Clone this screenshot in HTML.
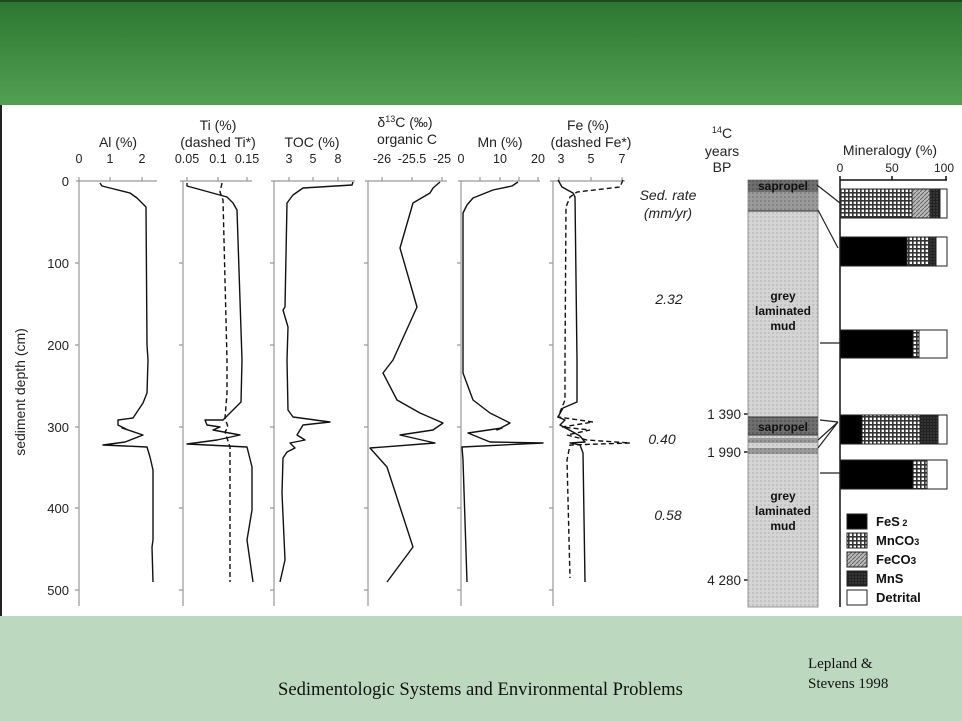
<!DOCTYPE html>
<html><head><meta charset="utf-8"><style>
html,body{margin:0;padding:0;width:962px;height:721px;overflow:hidden;background:#fff}
svg{display:block}
text{font-family:"Liberation Sans",sans-serif}
text.serif{font-family:"Liberation Serif",serif}
</style></head><body>
<svg width="962" height="721" viewBox="0 0 962 721" xmlns="http://www.w3.org/2000/svg">
<defs>
<linearGradient id="g" x1="0" y1="0" x2="0" y2="1"><stop offset="0" stop-color="#2c7632"/><stop offset="1" stop-color="#52a052"/></linearGradient>
<pattern id="dots" width="4" height="4" patternUnits="userSpaceOnUse"><rect width="4" height="4" fill="#d4d4d4"/><circle cx="1" cy="1" r="0.7" fill="#a8a8a8"/></pattern>
<pattern id="dots2" width="4" height="4" patternUnits="userSpaceOnUse"><rect width="4" height="4" fill="#9a9a9a"/><circle cx="1" cy="1" r="0.8" fill="#6a6a6a"/></pattern>
<pattern id="dots3" width="4" height="4" patternUnits="userSpaceOnUse"><rect width="4" height="4" fill="#6e6e6e"/><circle cx="1" cy="1" r="0.8" fill="#444"/></pattern>
<pattern id="cross" width="4" height="4" patternUnits="userSpaceOnUse"><rect width="4" height="4" fill="#fff"/><rect width="4" height="1.6" fill="#333"/><rect width="1.6" height="4" fill="#333"/></pattern>
<pattern id="diag" width="4" height="4" patternUnits="userSpaceOnUse"><rect width="4" height="4" fill="#bbb"/><path d="M0 4L4 0" stroke="#666" stroke-width="1"/></pattern>
<pattern id="mns" width="3" height="3" patternUnits="userSpaceOnUse"><rect width="3" height="3" fill="#222"/><circle cx="1" cy="1" r="0.6" fill="#666"/></pattern>
</defs>
<rect x="0" y="0" width="962" height="105" fill="url(#g)"/>
<rect x="0" y="0" width="962" height="2" fill="#1a4a1e"/>
<rect x="0" y="616" width="962" height="105" fill="#bcd9bf"/>
<rect x="0" y="105" width="2" height="511" fill="#222"/>

<g stroke="#999" stroke-width="1.2" fill="none">
<path d="M79 181V606M183 181V606M274 181V606M368 181V606M461 181V606M553 181V606"/>
<path d="M76 181H157M180 181H252M271 181H355M365 181H447M458 181H540M550 181H625"/>
<path d="M79 177V181M110 177V181M142 177V181M187 177V181M218 177V181M247 177V181M289 177V181M313 177V181M338 177V181M382 177V181M412 177V181M442 177V181M480 177V181M500 177V181M519 177V181M538 177V181M559 177V181M591 177V181M622 177V181"/>
<path d="M75 263H79M75 345H79M75 427H79M75 508H79M75 590H79"/>
<path d="M179 263H183M179 345H183M179 427H183M179 508H183M179 590H183"/>
<path d="M270 263H274M270 345H274M270 427H274M270 508H274M270 590H274"/>
<path d="M364 263H368M364 345H368M364 427H368M364 508H368M364 590H368"/>
<path d="M457 263H461M457 345H461M457 427H461M457 508H461M457 590H461"/>
<path d="M549 263H553M549 345H553M549 427H553M549 508H553M549 590H553"/>
</g>

<g font-size="14" fill="#222" text-anchor="middle">
<text x="118" y="147">Al (%)</text>
<text x="218" y="130">Ti (%)</text><text x="218" y="147">(dashed Ti*)</text>
<text x="312" y="147">TOC (%)</text>
<text x="405" y="127">δ<tspan font-size="9" dy="-5">13</tspan><tspan dy="5">C (‰)</tspan></text><text x="407" y="144">organic C</text>
<text x="500" y="147">Mn (%)</text>
<text x="588" y="130">Fe (%)</text><text x="591" y="147">(dashed Fe*)</text>
</g>
<g font-size="12.5" fill="#222" text-anchor="middle">
<text x="79" y="163">0</text><text x="110" y="163">1</text><text x="142" y="163">2</text>
<text x="187" y="163">0.05</text><text x="218" y="163">0.1</text><text x="247" y="163">0.15</text>
<text x="289" y="163">3</text><text x="313" y="163">5</text><text x="338" y="163">8</text>
<text x="382" y="163">-26</text><text x="412" y="163">-25.5</text><text x="442" y="163">-25</text>
<text x="461" y="163">0</text><text x="500" y="163">10</text><text x="538" y="163">20</text>
<text x="561" y="163">3</text><text x="591" y="163">5</text><text x="622" y="163">7</text>
</g>
<g font-size="13" fill="#222" text-anchor="end">
<text x="69" y="186">0</text><text x="69" y="268">100</text><text x="69" y="350">200</text><text x="69" y="432">300</text><text x="69" y="513">400</text><text x="69" y="595">500</text>
</g>
<text transform="translate(25,392) rotate(-90)" font-size="14" fill="#222" text-anchor="middle">sediment depth (cm)</text>

<g stroke="#111" stroke-width="1.4" fill="none" stroke-linejoin="round">
<polyline points="100,183 102,186 110,188 130,193 137,198 146,207 147,345 148,360 147,393 143,403 133,418 118,420 118,425 128,430 122,428 143,435 125,442 103,445 147,447 150,457 153,470 153,540 152,547 153,582"/>
<polyline points="187,183 187,186 227,197 233,203 237,210 240,300 242,360 241,402 233,410 223,420 205,420 207,425 220,427 213,430 240,435 217,440 187,444 247,447 252,467 252,510 247,540 253,582"/>
<polyline points="353,182 352,185 303,188 293,195 287,203 285,307 283,310 288,327 287,360 288,410 293,417 330,422 303,425 297,435 305,440 290,443 295,448 287,452 283,458 282,493 285,560 280,582"/>
<polyline points="440,182 433,188 430,193 413,203 400,248 417,307 393,360 383,373 397,400 420,413 443,423 433,430 400,435 435,443 370,448 387,467 413,547 387,582"/>
<polyline points="518,182 512,186 493,190 473,198 467,205 463,213 463,373 473,400 490,413 510,423 497,430 502,428 468,433 490,442 543,443 462,447 463,460 467,582"/>
<polyline points="558,180 562,187 573,193 575,197 577,360 577,402 563,408 558,417 565,420 560,425 573,432 580,436 585,442 570,443 580,445 583,453 585,582"/>
</g>
<g stroke="#111" stroke-width="1.4" fill="none" stroke-dasharray="5,3">
<polyline points="222,183 220,192 223,200 227,360 227,393 225,418 228,427 225,432 230,447 230,582"/>
<polyline points="623,180 620,187 577,192 570,197 566,207 565,360 565,400 558,417 593,422 562,427 590,430 567,435 587,440 630,443 570,445 567,460 570,578"/>
</g>

<g font-size="14" font-style="italic" fill="#222" text-anchor="middle">
<text x="668" y="200">Sed. rate</text><text x="668" y="218">(mm/yr)</text>
<text x="669" y="304">2.32</text><text x="662" y="444">0.40</text><text x="668" y="520">0.58</text>
</g>
<g font-size="14" fill="#222" text-anchor="middle">
<text x="722" y="138"><tspan font-size="9" dy="-5">14</tspan><tspan dy="5">C</tspan></text>
<text x="722" y="156">years</text><text x="722" y="172">BP</text>
</g>
<g font-size="13.5" fill="#222" text-anchor="end">
<text x="741" y="419">1 390</text><text x="741" y="457">1 990</text><text x="741" y="585">4 280</text>
</g>
<path d="M744 414H748M744 452H748M744 580H748" stroke="#222" stroke-width="1.5"/>

<rect x="748" y="180" width="70" height="427" fill="url(#dots)" stroke="#999"/>
<rect x="748" y="180" width="70" height="12" fill="url(#dots3)"/>
<rect x="748" y="192" width="70" height="19" fill="url(#dots2)"/>
<rect x="748" y="417" width="70" height="18" fill="url(#dots3)"/>
<rect x="748" y="438" width="70" height="5" fill="url(#dots2)"/>
<rect x="748" y="448" width="70" height="6" fill="url(#dots2)"/>
<path d="M748 211H818M748 417H818M748 435H818" stroke="#333" stroke-width="1"/>
<g font-size="12" font-weight="bold" fill="#111" text-anchor="middle">
<text x="783" y="190">sapropel</text>
<text x="783" y="431">sapropel</text>
<text x="783" y="300">grey</text><text x="783" y="315">laminated</text><text x="783" y="330">mud</text>
<text x="783" y="500">grey</text><text x="783" y="515">laminated</text><text x="783" y="530">mud</text>
</g>
<g stroke="#222" stroke-width="1.2" fill="none">
<path d="M817 185L840 203M818 210L838 248M820 343H840M820 420L838 422M818 440L838 422M818 448L838 422M820 473H840"/>
</g>

<text x="890" y="155" font-size="14" fill="#222" text-anchor="middle">Mineralogy (%)</text>
<g font-size="12" fill="#222" text-anchor="middle"><text x="840" y="172">0</text><text x="892" y="172">50</text><text x="944" y="172">100</text></g>
<path d="M840 180V607M840 180H947M840 176V180M892 176V180M946 176V180" stroke="#111" stroke-width="1.5" fill="none"/>
<g stroke="#222" stroke-width="1">
<rect x="840" y="189" width="107" height="29" fill="#fff"/>
<rect x="840" y="189" width="72" height="29" fill="url(#cross)"/>
<rect x="912" y="189" width="18" height="29" fill="url(#diag)"/>
<rect x="930" y="189" width="10" height="29" fill="url(#mns)"/>
<rect x="840" y="237" width="107" height="29" fill="#fff"/>
<rect x="840" y="237" width="67" height="29" fill="#000"/>
<rect x="907" y="237" width="23" height="29" fill="url(#cross)"/>
<rect x="930" y="237" width="6" height="29" fill="url(#mns)"/>
<rect x="840" y="330" width="107" height="28" fill="#fff"/>
<rect x="840" y="330" width="73" height="28" fill="#000"/>
<rect x="913" y="330" width="6" height="28" fill="url(#cross)"/>
<rect x="840" y="415" width="107" height="29" fill="#fff"/>
<rect x="840" y="415" width="22" height="29" fill="#000"/>
<rect x="862" y="415" width="58" height="29" fill="url(#cross)"/>
<rect x="920" y="415" width="18" height="29" fill="url(#mns)"/>
<rect x="840" y="460" width="107" height="29" fill="#fff"/>
<rect x="840" y="460" width="73" height="29" fill="#000"/>
<rect x="913" y="460" width="14" height="29" fill="url(#cross)"/>
<rect x="847" y="514" width="20" height="15" fill="#000"/>
<rect x="847" y="533" width="20" height="15" fill="url(#cross)"/>
<rect x="847" y="552" width="20" height="15" fill="url(#diag)"/>
<rect x="847" y="571" width="20" height="15" fill="url(#mns)"/>
<rect x="847" y="590" width="20" height="15" fill="#fff"/>
</g>
<g font-size="13" font-weight="bold" fill="#111">
<text x="876" y="526">FeS<tspan font-size="9"> 2</tspan></text>
<text x="876" y="545">MnCO<tspan font-size="9">3</tspan></text>
<text x="876" y="564">FeCO<tspan font-size="10">3</tspan></text>
<text x="876" y="583">MnS</text>
<text x="876" y="602">Detrital</text>
</g>

<g fill="#111">
<text class="serif" x="278" y="695" font-size="18.6">Sedimentologic Systems and Environmental Problems</text>
<text class="serif" x="808" y="668" font-size="15">Lepland &amp;</text>
<text class="serif" x="808" y="688" font-size="15">Stevens 1998</text>
</g>
</svg>
</body></html>
